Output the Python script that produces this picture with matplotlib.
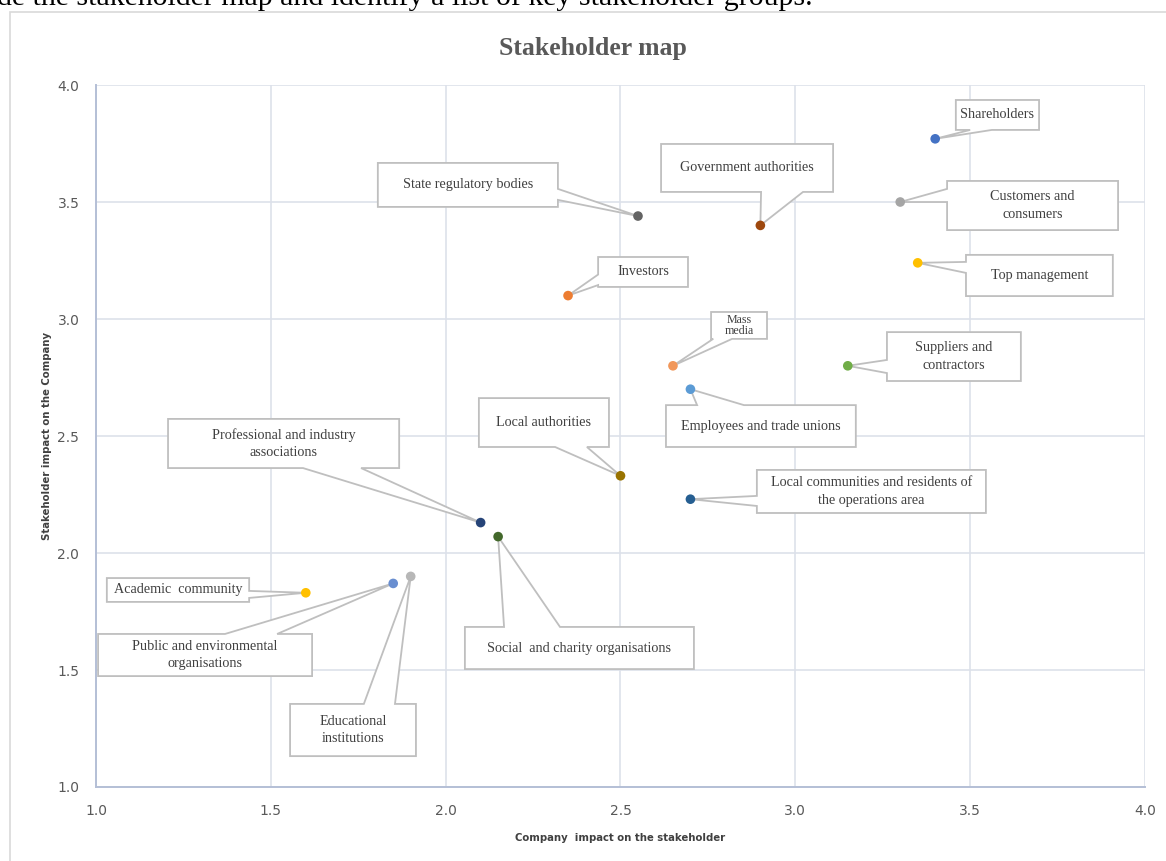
import matplotlib
matplotlib.use("Agg")
import matplotlib.pyplot as plt
from matplotlib.patches import Polygon, Rectangle

# ---------------- data ----------------
labels = [
    "Shareholders", "Customers and\nconsumers", "Top management",
    "Government authorities", "State regulatory bodies", "Investors",
    "Mass\nmedia", "Employees and trade unions", "Suppliers and\ncontractors",
    "Local authorities", "Local communities and residents of\nthe operations area",
    "Professional and industry\nassociations", "Social  and charity organisations",
    "Academic  community", "Public and environmental\norganisations",
    "Educational\ninstitutions",
]
company_impact = [3.40, 3.30, 3.35, 2.90, 2.55, 2.35, 2.65, 2.70, 3.15,
                  2.50, 2.70, 2.10, 2.15, 1.60, 1.85, 1.90]
stakeholder_impact = [3.77, 3.50, 3.24, 3.40, 3.44, 3.10, 2.80, 2.70, 2.80,
                      2.33, 2.23, 2.13, 2.07, 1.83, 1.87, 1.90]
colors = ["#4472C4", "#A5A5A5", "#FFC000", "#9E480E", "#636363", "#ED7D31",
          "#F1975A", "#5B9BD5", "#70AD47", "#997300", "#255E91", "#264478",
          "#43682B", "#FFC000", "#698ED0", "#B7B7B7"]
x_ticks = [1.0, 1.5, 2.0, 2.5, 3.0, 3.5, 4.0]
y_ticks = [1.0, 1.5, 2.0, 2.5, 3.0, 3.5, 4.0]

# ---------------- layout of callouts (data units) ----------------
# box: (x0, x1, y_top, y_bottom); wedge: (side, a, b) along that side
boxes = [
    (3.459, 3.697, 3.936, 3.808), (3.434, 3.923, 3.590, 3.380),
    (3.488, 3.908, 3.274, 3.098), (2.616, 3.108, 3.748, 3.543),
    (1.806, 2.321, 3.667, 3.479), (2.436, 2.693, 3.265, 3.137),
    (2.759, 2.919, 3.030, 2.915), (2.630, 3.173, 2.632, 2.453),
    (3.262, 3.645, 2.944, 2.735), (2.095, 2.467, 2.662, 2.453),
    (2.890, 3.545, 2.355, 2.171), (1.206, 1.867, 2.573, 2.363),
    (2.055, 2.710, 1.684, 1.504), (1.031, 1.438, 1.893, 1.791),
    (1.006, 1.618, 1.654, 1.474), (1.555, 1.915, 1.355, 1.132),
]
wedges = [
    ("bottom", 3.500, 3.562), ("left", 3.556, 3.500), ("left", 3.244, 3.197),
    ("bottom", 2.902, 3.022), ("right", 3.556, 3.509), ("left", 3.190, 3.145),
    ("bottom", 2.765, 2.819), ("top", 2.719, 2.853), ("left", 2.825, 2.769),
    ("bottom", 2.313, 2.404), ("left", 2.244, 2.201), ("bottom", 1.592, 1.758),
    ("top", 2.167, 2.327), ("right", 1.838, 1.808), ("top", 1.369, 1.518),
    ("top", 1.766, 1.855),
]

W, H, DPI = 1166, 861, 100
fig = plt.figure(figsize=(W / DPI, H / DPI), dpi=DPI)
fig.patch.set_facecolor("white")

# outer chart frame
fig.patches.append(Rectangle((10 / W, -0.01), 1.2, 1 - 12 / H + 0.01,
                             transform=fig.transFigure, fill=False,
                             edgecolor="#D9D9D9", lw=1.2))

# cut-off document text at very top
fig.text(-3 / W, 1 - 5 / H, "de the stakeholder map and identify a list of key stakeholder groups.",
         family="Liberation Serif", fontsize=21.5, color="black", va="baseline", ha="left")

ax = fig.add_axes([96 / W, 1 - 787 / H, (1145 - 96) / W, (787 - 85) / H])
ax.set_xlim(1.0, 4.0)
ax.set_ylim(1.0, 4.0)
ax.set_xticks(x_ticks)
ax.set_yticks(y_ticks)
ax.set_xticklabels([f"{v:.1f}" for v in x_ticks])
ax.set_yticklabels([f"{v:.1f}" for v in y_ticks])
ax.grid(True, color="#DDE1EA", lw=1.2, zorder=0)
ax.set_axisbelow(True)
for s in ["top", "right"]:
    ax.spines[s].set_visible(False)
for s in ["left", "bottom"]:
    ax.spines[s].set_color("#B4BFD6")
    ax.spines[s].set_linewidth(1.4)
ax.tick_params(length=0, labelsize=10, labelcolor="#595959", pad=12)
ax.set_xlabel("Company  impact on the stakeholder", fontsize=7.3, fontweight="bold",
              color="#404040", labelpad=11)
ax.set_ylabel("Stakeholder impact on the Company", fontsize=7.3, fontweight="bold",
              color="#404040", labelpad=4)
fig.text(593 / W, 1 - 48 / H, "Stakeholder map", family="Liberation Serif",
         fontweight="bold", fontsize=18.5, color="#595959", ha="center", va="center")

edge = "#BFBFBF"
for i, lab in enumerate(labels):
    px, py = company_impact[i], stakeholder_impact[i]
    x0, x1, yt, yb = boxes[i]
    side, a, b = wedges[i]
    if side == "bottom":
        lo, hi = min(a, b), max(a, b)
        pts = [(x0, yt), (x1, yt), (x1, yb), (hi, yb), (px, py), (lo, yb), (x0, yb)]
    elif side == "top":
        lo, hi = min(a, b), max(a, b)
        pts = [(x0, yt), (lo, yt), (px, py), (hi, yt), (x1, yt), (x1, yb), (x0, yb)]
    elif side == "left":
        hi, lo = max(a, b), min(a, b)
        pts = [(x0, yt), (x1, yt), (x1, yb), (x0, yb), (x0, lo), (px, py), (x0, hi)]
    else:  # right
        hi, lo = max(a, b), min(a, b)
        pts = [(x0, yt), (x1, yt), (x1, hi), (px, py), (x1, lo), (x1, yb), (x0, yb)]
    ax.add_patch(Polygon(pts, closed=True, facecolor="white", edgecolor=edge,
                         lw=1.3, zorder=3, clip_on=False))
    is_mass = lab.startswith("Mass")
    fs = 8.6 if is_mass else 10.2
    ls = 0.95 if is_mass else 1.45
    ax.text((x0 + x1) / 2, (yt + yb) / 2, lab, ha="center", va="center",
            fontsize=fs, family="Liberation Serif", color="#404040",
            linespacing=ls, zorder=4)

ax.scatter(company_impact, stakeholder_impact, s=48, c=colors, zorder=5,
           edgecolors="none")

fig.savefig("out.png", dpi=DPI)
